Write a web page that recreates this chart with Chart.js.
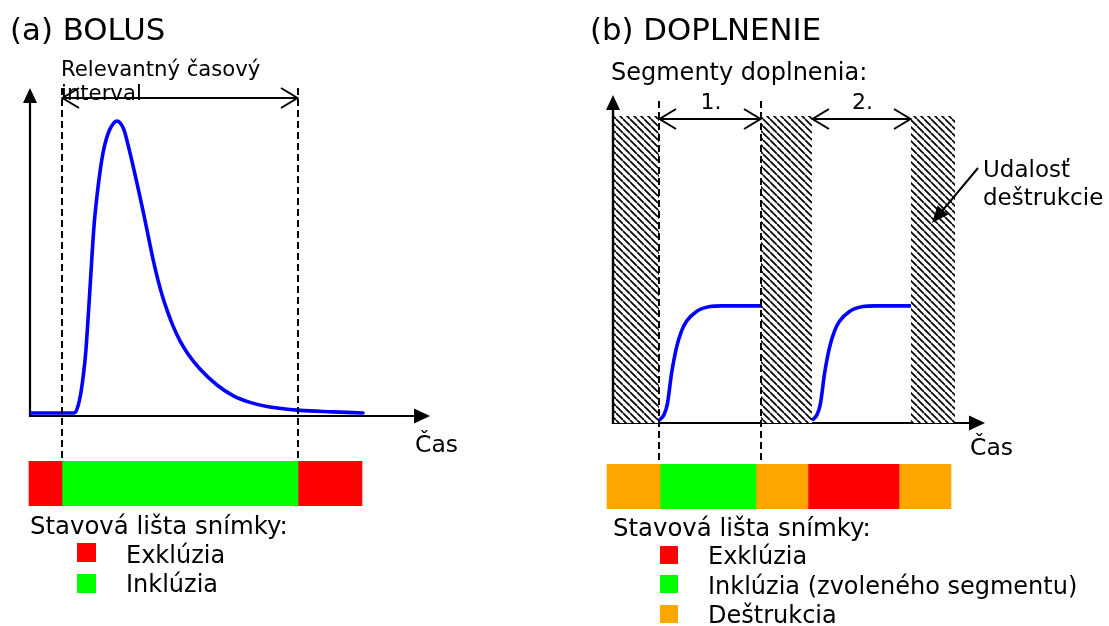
<!DOCTYPE html>
<html>
<head>
<meta charset="utf-8">
<script src="https://cdn.jsdelivr.net/npm/chart.js@4/dist/chart.umd.min.js"></script>
<style>
  html, body { margin: 0; padding: 0; background: #fff; }
  body { width: 1109px; height: 626px; overflow: hidden; position: relative; }
  canvas { position: absolute; }
</style>
</head>
<body>
<canvas id="ca" width="560" height="626" style="left:0;top:0"></canvas>
<canvas id="sa" width="560" height="45" style="left:0;top:461px"></canvas>
<canvas id="cb" width="549" height="626" style="left:560px;top:0"></canvas>
<canvas id="sb" width="549" height="45" style="left:560px;top:464px"></canvas>
<script>
// ---------------- DATA ----------------
// Panel (a) BOLUS: time (arbitrary units) and signal intensity
const bolusTime  = [0, 6.4, 8.4, 9.0, 9.6, 10.1, 10.6, 11.1, 11.6, 12.1, 12.8, 13.4, 14.0, 14.6, 15.2, 15.9, 16.6, 17.3, 18.0, 18.8, 19.66, 20.66, 21.66, 22.66, 23.6, 24.6, 25.6, 26.6, 27.6, 28.6, 30.0, 31.6, 34.0, 37.4, 40.6, 44.0, 47.4, 54.0, 60.6, 66.6];
const bolusValue = [0.010, 0.010, 0.010, 0.012, 0.034, 0.071, 0.129, 0.206, 0.325, 0.460, 0.643, 0.745, 0.826, 0.890, 0.934, 0.968, 0.988, 0.998, 0.993, 0.968, 0.914, 0.843, 0.768, 0.690, 0.613, 0.531, 0.460, 0.399, 0.349, 0.305, 0.254, 0.210, 0.159, 0.105, 0.069, 0.046, 0.032, 0.019, 0.014, 0.010];
const relevantInterval = [6.4, 53.6];
const bolusStatusStart = [-0.2, 6.4, 53.6];
const bolusStatusEnd   = [6.4, 53.6, 66.4];
const bolusStatusKind  = ['excl', 'incl', 'excl'];

// Panel (b) DOPLNENIE
const refillTime1  = [9.2, 10.2, 10.9, 11.7, 12.7, 13.7, 14.7, 16.7, 19.4, 21.7, 29.6];
const refillValue1 = [0.008, 0.025, 0.06, 0.15, 0.23, 0.28, 0.31, 0.34, 0.355, 0.357, 0.357];
const refillTime2  = [39.8, 40.8, 41.5, 42.3, 43.3, 44.3, 45.3, 47.3, 50.0, 52.3, 59.6];
const refillValue2 = [0.008, 0.025, 0.06, 0.15, 0.23, 0.28, 0.31, 0.34, 0.355, 0.357, 0.357];
const destructionStart = [0, 29.6, 59.6];
const destructionEnd   = [9.2, 39.8, 68.4];
const destructionLevel = 0.936;
const segmentStart = [9.2, 39.8];
const segmentEnd   = [29.6, 59.6];
const segmentLabels = ['1.', '2.'];
const refillStatusStart = [-1.2, 9.4, 28.6, 39.0, 57.2];
const refillStatusEnd   = [9.4, 28.6, 39.0, 57.2, 67.6];
const refillStatusKind  = ['destr', 'incl', 'destr', 'excl', 'destr'];

// Legend
const statusKinds = ['excl', 'incl', 'destr'];
const statusColors = { excl: '#ff0000', incl: '#00ff00', destr: '#ffa500' };
const legendA = ['Exklúzia', 'Inklúzia'];
const legendB = ['Exklúzia', 'Inklúzia (zvoleného segmentu)', 'Deštrukcia'];

// ---------------- HELPERS ----------------
const FONT = '"DejaVu Sans", Verdana, sans-serif';
function font(px) { return px + 'px ' + FONT; }
function seg(ctx, x1, y1, x2, y2) { ctx.beginPath(); ctx.moveTo(x1, y1); ctx.lineTo(x2, y2); ctx.stroke(); }
function solidHead(ctx, tx, ty, angle, len, half) {
  const c = Math.cos(angle), s = Math.sin(angle);
  const bx = tx - c * len, by = ty - s * len;
  ctx.beginPath();
  ctx.moveTo(tx, ty);
  ctx.lineTo(bx - s * half, by + c * half);
  ctx.lineTo(bx + s * half, by - c * half);
  ctx.closePath();
  ctx.fill();
}
function doubleArrow(ctx, x1, x2, y) {
  ctx.save();
  ctx.lineWidth = 2; ctx.strokeStyle = '#000';
  seg(ctx, x1, y, x2, y);
  ctx.beginPath();
  ctx.moveTo(x1 + 17, y - 10); ctx.lineTo(x1 + 0.5, y); ctx.lineTo(x1 + 17, y + 10);
  ctx.moveTo(x2 - 17, y - 10); ctx.lineTo(x2 - 0.5, y); ctx.lineTo(x2 - 17, y + 10);
  ctx.stroke();
  ctx.restore();
}
function dashed(ctx, x, y1, y2) {
  ctx.save();
  ctx.lineWidth = 2; ctx.strokeStyle = '#000'; ctx.setLineDash([7, 4]);
  seg(ctx, x, y1, x, y2);
  ctx.restore();
}
function text(ctx, str, x, y, size, align) {
  ctx.save();
  ctx.font = font(size); ctx.fillStyle = '#000';
  ctx.textAlign = align || 'left'; ctx.textBaseline = 'alphabetic';
  ctx.fillText(str, x, y);
  ctx.restore();
}
function makeHatch(ctx) {
  const n = 7;
  const t = document.createElement('canvas');
  t.width = n; t.height = n;
  const g = t.getContext('2d');
  g.fillStyle = '#fff'; g.fillRect(0, 0, n, n);
  g.strokeStyle = '#000'; g.lineWidth = 1.7;
  g.beginPath();
  for (const k of [-1, 0, 1]) { g.moveTo(0, k * n); g.lineTo(n, n + k * n); }
  g.stroke();
  return ctx.createPattern(t, 'repeat');
}
function pts(xs, ys) { return xs.map((x, i) => ({ x: x, y: ys[i] })); }

const baseOpts = (pad, xmax, ymax) => ({
  responsive: false, animation: false, events: [],
  layout: { padding: pad },
  scales: {
    x: { type: 'linear', min: 0, max: xmax, display: false },
    y: { type: 'linear', min: 0, max: ymax, display: false }
  },
  plugins: { legend: { display: false }, tooltip: { enabled: false } }
});

function statusChart(id, starts, ends, kinds, pad, xmax) {
  return new Chart(document.getElementById(id), {
    type: 'bar',
    data: {
      labels: [''],
      datasets: starts.map((s, i) => ({
        data: [[s, ends[i]]],
        backgroundColor: statusColors[kinds[i]],
        borderWidth: 0, barPercentage: 1, categoryPercentage: 1,
        grouped: false, clip: false
      }))
    },
    options: {
      indexAxis: 'y', responsive: false, animation: false, events: [],
      layout: { padding: pad },
      scales: {
        x: { type: 'linear', min: 0, max: xmax, display: false },
        y: { display: false }
      },
      plugins: { legend: { display: false }, tooltip: { enabled: false } }
    }
  });
}

// ---------------- PANEL (a) ----------------
const decorA = {
  id: 'decorA',
  beforeDatasetsDraw(chart) {
    const { ctx, chartArea: ca, scales: { x, y } } = chart;
    const x0 = x.getPixelForValue(0), y0 = y.getPixelForValue(0);
    ctx.save();
    ctx.strokeStyle = '#000'; ctx.fillStyle = '#000'; ctx.lineWidth = 2.2;
    seg(ctx, x0, y0 + 1, x0, ca.top + 12);
    solidHead(ctx, x0, ca.top, -Math.PI / 2, 15, 7);
    seg(ctx, x0 - 1, y0, ca.right - 12, y0);
    solidHead(ctx, ca.right, y0, 0, 16, 7.5);
    ctx.restore();
  },
  afterDatasetsDraw(chart) {
    const { ctx, chartArea: ca, scales: { x } } = chart;
    const p1 = x.getPixelForValue(relevantInterval[0]);
    const p2 = x.getPixelForValue(relevantInterval[1]);
    dashed(ctx, p1, ca.top, 461);
    dashed(ctx, p2, ca.top, 461);
    doubleArrow(ctx, p1, p2, 98);
    text(ctx, '(a) BOLUS', 10, 40, 30.8);
    text(ctx, 'Relevantný časový', 61, 76, 21.2);
    text(ctx, 'interval', 61, 100, 21.2);
    text(ctx, 'Čas', 415, 452, 23.5);
    text(ctx, 'Stavová lišta snímky:', 30, 534, 24.4);
    const ly = [543, 574], lt = [563, 592];
    legendA.forEach((lbl, i) => {
      ctx.fillStyle = statusColors[statusKinds[i]];
      ctx.fillRect(77, ly[i], 19, 19);
      text(ctx, lbl, 126, lt[i], 24);
    });
  }
};

new Chart(document.getElementById('ca'), {
  type: 'line',
  data: {
    datasets: [{
      label: 'Bolus',
      data: pts(bolusTime, bolusValue),
      borderColor: '#0000ff', borderWidth: 3.6, pointRadius: 0,
      fill: false, cubicInterpolationMode: 'monotone', borderJoinStyle: 'round', borderCapStyle: 'round'
    }]
  },
  options: baseOpts({ left: 30, top: 88, right: 130, bottom: 210 }, 80, 1.11),
  plugins: [decorA]
});
statusChart('sa', bolusStatusStart, bolusStatusEnd, bolusStatusKind, { left: 30, right: 130, top: 0, bottom: 0 }, 80);

// ---------------- PANEL (b) ----------------
const cbCtx = document.getElementById('cb').getContext('2d');
const hatch = makeHatch(cbCtx);

const decorB = {
  id: 'decorB',
  beforeDatasetsDraw(chart) {
    const { ctx, chartArea: ca, scales: { x, y } } = chart;
    const x0 = x.getPixelForValue(0), y0 = y.getPixelForValue(0);
    ctx.save();
    ctx.strokeStyle = '#000'; ctx.fillStyle = '#000'; ctx.lineWidth = 2.2;
    seg(ctx, x0, y0, ca.right - 12, y0);
    solidHead(ctx, ca.right, y0, 0, 16, 7.5);
    ctx.restore();
  },
  afterDatasetsDraw(chart) {
    const { ctx, chartArea: ca, scales: { x, y } } = chart;
    const x0 = x.getPixelForValue(0), y0 = y.getPixelForValue(0);
    ctx.save();
    ctx.strokeStyle = '#000'; ctx.fillStyle = '#000'; ctx.lineWidth = 2.4;
    seg(ctx, x0, y0 + 1, x0, ca.top + 12);
    solidHead(ctx, x0, ca.top, -Math.PI / 2, 15, 7);
    ctx.restore();
    // dashed borders of first segment
    dashed(ctx, x.getPixelForValue(segmentStart[0]), 101, 462);
    dashed(ctx, x.getPixelForValue(segmentEnd[0]), 101, 462);
    segmentStart.forEach((s, i) => {
      const a = x.getPixelForValue(s), b = x.getPixelForValue(segmentEnd[i]);
      doubleArrow(ctx, a, b, 119);
      text(ctx, segmentLabels[i], (a + b) / 2 + 1, 109, 22, 'center');
    });
    text(ctx, '(b) DOPLNENIE', 30, 40, 30.8);
    text(ctx, 'Segmenty doplnenia:', 51, 80, 24);
    text(ctx, 'Udalosť', 423, 177, 23);
    text(ctx, 'deštrukcie', 423, 205, 23);
    ctx.save();
    ctx.strokeStyle = '#000'; ctx.fillStyle = '#000'; ctx.lineWidth = 2;
    const ax1 = 418, ay1 = 168, ax2 = 372, ay2 = 223;
    const ang = Math.atan2(ay2 - ay1, ax2 - ax1);
    seg(ctx, ax1, ay1, ax2 - Math.cos(ang) * 10, ay2 - Math.sin(ang) * 10);
    solidHead(ctx, ax2, ay2, ang, 17, 7);
    ctx.restore();
    text(ctx, 'Čas', 410, 455, 23.5);
    text(ctx, 'Stavová lišta snímky:', 53, 536, 24.4);
    const ly = [546, 575, 605], lt = [564, 594, 623];
    legendB.forEach((lbl, i) => {
      ctx.fillStyle = statusColors[statusKinds[i]];
      ctx.fillRect(100, ly[i], 18, 18);
      text(ctx, lbl, 148, lt[i], 24);
    });
  }
};

const hatchSets = destructionStart.map((s, i) => ({
  label: 'Udalosť deštrukcie',
  data: [{ x: s, y: destructionLevel }, { x: destructionEnd[i], y: destructionLevel }],
  borderWidth: 0, borderColor: 'rgba(0,0,0,0)', pointRadius: 0,
  fill: 'origin', backgroundColor: hatch, tension: 0
}));

new Chart(document.getElementById('cb'), {
  type: 'line',
  data: {
    datasets: [
      { label: 'Segment 1', data: pts(refillTime1, refillValue1), borderColor: '#0000ff', borderWidth: 3.6, pointRadius: 0, fill: false, cubicInterpolationMode: 'monotone' },
      { label: 'Segment 2', data: pts(refillTime2, refillValue2), borderColor: '#0000ff', borderWidth: 3.6, pointRadius: 0, fill: false, cubicInterpolationMode: 'monotone' },
      ...hatchSets
    ]
  },
  options: baseOpts({ left: 53, top: 95, right: 124, bottom: 203 }, 74.4, 1.0),
  plugins: [decorB]
});
statusChart('sb', refillStatusStart, refillStatusEnd, refillStatusKind, { left: 53, right: 124, top: 0, bottom: 0 }, 74.4);
</script>
</body>
</html>
